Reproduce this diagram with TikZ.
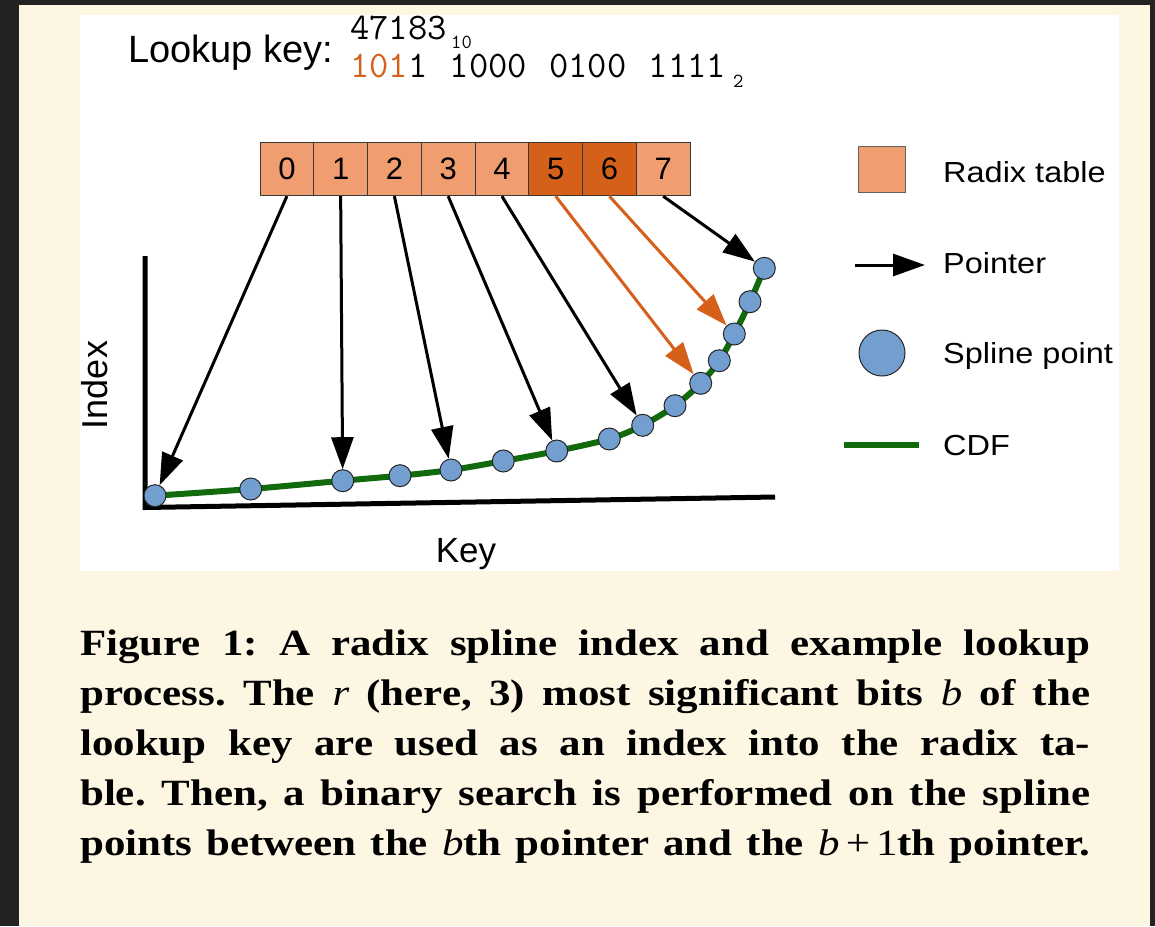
\documentclass[tikz,border=0pt]{standalone}
\usepackage{fontspec}
\setmainfont{Liberation Serif}
\setsansfont{Liberation Sans}
\newfontfamily\legfont[FakeStretch=1.12]{Liberation Sans}
\newfontfamily\capfont[FakeStretch=1.16]{Liberation Serif}
\usetikzlibrary{arrows.meta}
\definecolor{cream}{HTML}{FDF6E3}
\definecolor{outerbg}{HTML}{232323}
\definecolor{cellorange}{HTML}{F09E6F}
\definecolor{darkorange}{HTML}{D4601A}
\definecolor{splineblue}{HTML}{729FCF}
\definecolor{cdfgreen}{HTML}{116A0C}
\definecolor{celledge}{HTML}{3A3A3A}
\frenchspacing
\begin{document}
\begin{tikzpicture}[x=1pt,y=-1pt,
  cell/.style={draw=celledge,line width=1pt,fill=cellorange,minimum width=53.75pt,minimum height=53.4pt,inner sep=0pt,font=\sffamily\fontsize{31}{31}\selectfont},
  hotcell/.style={cell,fill=darkorange},
  spt/.style={circle,draw=black!85,line width=1pt,fill=splineblue,minimum size=22pt,inner sep=0pt},
  ptr/.style={line width=3pt,-{Triangle[length=32pt,width=22pt]}},
  hotptr/.style={ptr,draw=darkorange,fill=darkorange},
  cdf/.style={line width=6pt,draw=cdfgreen},
  axis/.style={line width=5pt,line join=miter,line cap=butt},
  legtext/.style={anchor=base west,inner sep=0pt,font=\legfont\fontsize{29}{29}\selectfont},
  monotext/.style={anchor=base west,inner sep=0pt,text depth=0pt,font=\ttfamily\fontsize{37.5}{37.5}\selectfont},
  monosub/.style={anchor=base west,inner sep=0pt,text depth=0pt,font=\ttfamily\fontsize{20}{20}\selectfont},
  capline/.style={anchor=base west,inner sep=0pt,font=\capfont\bfseries\fontsize{37}{37}\selectfont}
]
\useasboundingbox (0,0) rectangle (1155,926);
\fill[outerbg] (0,0) rectangle (1155,926);
\fill[cream] (19,5) rectangle (1150,926);
\fill[white] (80,15) rectangle (1119,571);

% lookup key
\node[anchor=base west,inner sep=0pt,font=\sffamily\fontsize{38}{38}\selectfont] (lk) at (128,62) {Lookup key:};
\node[monotext] (dec) at (350,39) {47183};
\node[monosub] (decsub) at (451,48) {10};
\node[monotext] (bin) at (350,77) {\makebox[376pt][s]{\textcolor{darkorange}{101}1\hfill 1000\hfill 0100\hfill 1111}};
\node[monosub] (binsub) at (733,87) {2};

% radix table
\foreach \i/\s in {0/cell,1/cell,2/cell,3/cell,4/cell,5/hotcell,6/hotcell,7/cell}{
  \node[\s] (c\i) at ({286.9+53.75*\i},169) {\i};
}

% axes
\coordinate (axtop) at (145,256);
\coordinate (axorig) at (145,507.5);
\coordinate (axend) at (775,497);
\draw[axis] (axtop) -- (axorig) -- (axend);
\node[rotate=90,inner sep=0pt,font=\sffamily\fontsize{36}{36}\selectfont] (ylab) at (95,385) {Index};
\node[anchor=base,inner sep=0pt,font=\sffamily\fontsize{35}{35}\selectfont] (xlab) at (466,562) {Key};

% spline points
\coordinate (q1) at (155,495.7);
\coordinate (q2) at (250.7,489);
\coordinate (q3) at (342.7,480.7);
\coordinate (q4) at (400,475.7);
\coordinate (q5) at (451,470);
\coordinate (q6) at (503.3,461);
\coordinate (q7) at (556.7,451);
\coordinate (q8) at (609.3,439);
\coordinate (q9) at (642.7,425.3);
\coordinate (q10) at (675,405.7);
\coordinate (q11) at (700.7,383.3);
\coordinate (q12) at (719.3,360.7);
\coordinate (q13) at (734.3,334);
\coordinate (q14) at (750,301.7);
\coordinate (q15) at (764.3,268.3);
\draw[cdf] plot[smooth,tension=0.5] coordinates {(q1) (q2) (q3) (q4) (q5) (q6) (q7) (q8) (q9) (q10) (q11) (q12) (q13) (q14) (q15)};
\foreach \k in {1,...,15}{ \node[spt] (p\k) at (q\k) {}; }

% pointers
\draw[ptr] (c0.south) -- (p1);
\draw[ptr] (c1.south) -- (p3);
\draw[ptr] (c2.south) -- (p5);
\draw[ptr] (c3.south) -- (p7);
\draw[ptr] (c4.south) -- (p9);
\draw[hotptr] (c5.south) -- (p11);
\draw[hotptr] (c6.south) -- (p13);
\draw[ptr] (c7.south) -- (p15);

% legend
\node[draw=celledge!80,line width=1pt,fill=cellorange,minimum width=47pt,minimum height=46pt,inner sep=0pt] (legcell) at (881.5,169) {};
\node[legtext] (legcelltxt) at (943,182) {Radix table};
\coordinate (legptra) at (855,265);
\coordinate (legptrb) at (925,265);
\draw[ptr] (legptra) -- (legptrb);
\node[legtext] (legptrtxt) at (943,273) {Pointer};
\node[spt,minimum size=46pt] (legspt) at (882,353) {};
\node[legtext] (legspttxt) at (943,363) {Spline point};
\coordinate (legcdfa) at (844,445);
\coordinate (legcdfb) at (919,445);
\draw[cdf] (legcdfa) -- (legcdfb);
\node[legtext] (legcdftxt) at (943,455) {CDF};

% caption
\node[capline] (cap1) at (80,655) {\makebox[1010pt][s]{Figure 1: A radix spline index and example lookup}};
\node[capline] (cap2) at (80,705) {\makebox[1010pt][s]{process. The {\mdseries\itshape r} (here, 3) most significant bits {\mdseries\itshape b} of the}};
\node[capline] (cap3) at (80,755) {\makebox[1010pt][s]{lookup key are used as an index into the radix ta-}};
\node[capline] (cap4) at (80,805) {\makebox[1010pt][s]{ble. Then, a binary search is performed on the spline}};
\node[capline] (cap5) at (80,855) {\makebox[1010pt][s]{points between the {\mdseries\itshape b}th pointer and the {\mdseries\itshape b}{\mdseries\,+\,1}th pointer.}};
\end{tikzpicture}
\end{document}
